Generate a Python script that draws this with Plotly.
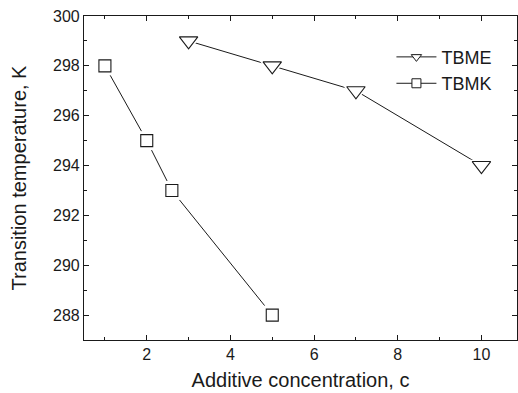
import plotly.graph_objects as go

tbme_x = [3, 5, 7, 10]
tbme_y = [299, 298, 297, 294]
tbmk_x = [1, 2, 2.6, 5]
tbmk_y = [298, 295, 293, 288]

x_ticks = [2, 4, 6, 8, 10]
y_ticks = [288, 290, 292, 294, 296, 298, 300]

INK = "#1a1a1a"
FONT = "Liberation Sans, Arial"

fig = go.Figure()


def add_series(xs, ys, name, symbol, size):
    # connecting line
    fig.add_trace(go.Scatter(x=xs, y=ys, mode="lines", showlegend=False,
                             line=dict(color=INK, width=1), hoverinfo="skip"))
    # white halo to make the gap between line and marker
    fig.add_trace(go.Scatter(x=xs, y=ys, mode="markers", showlegend=False,
                             marker=dict(symbol=symbol, size=size + 7, color="white",
                                         line=dict(width=0)), hoverinfo="skip"))
    # open markers
    fig.add_trace(go.Scatter(x=xs, y=ys, mode="markers", showlegend=False, name=name,
                             marker=dict(symbol=symbol, size=size, color="white",
                                         line=dict(color=INK, width=1.1))))
    # legend entry with smaller marker
    fig.add_trace(go.Scatter(x=[None], y=[None], mode="lines+markers", name=name,
                             line=dict(color=INK, width=1),
                             marker=dict(symbol=symbol, size=9, color="white",
                                         line=dict(color=INK, width=1))))


add_series(tbme_x, tbme_y, "TBME", "triangle-down", 16)
add_series(tbmk_x, tbmk_y, "TBMK", "square", 12)

axis_common = dict(
    showline=True, linecolor=INK, linewidth=1.2, mirror="ticks",
    ticks="inside", ticklen=5, tickcolor=INK, showgrid=False, zeroline=False,
    tickfont=dict(family=FONT, size=16, color=INK),
)

fig.update_xaxes(
    range=[0.5, 10.85], tickvals=x_ticks,
    title=dict(text="Additive concentration, c",
               font=dict(family=FONT, size=20, color=INK), standoff=10),
    minor=dict(ticks="inside", ticklen=3, tickcolor=INK, dtick=1, tick0=1),
    **axis_common,
)
fig.update_yaxes(
    range=[287, 300], tickvals=y_ticks,
    title=dict(text="Transition temperature, K",
               font=dict(family=FONT, size=20, color=INK), standoff=20),
    minor=dict(ticks="inside", ticklen=3, tickcolor=INK, dtick=1, tick0=287),
    **axis_common,
)

fig.update_layout(
    width=518, height=393,
    margin=dict(l=84, r=1, t=16, b=53),
    paper_bgcolor="white", plot_bgcolor="white",
    showlegend=True,
    legend=dict(x=0.71, y=0.93, xanchor="left", yanchor="top",
                bgcolor="rgba(0,0,0,0)",
                font=dict(family=FONT, size=18, color=INK),
                itemwidth=40, tracegroupgap=0),
)

fig.write_html("out.html")
